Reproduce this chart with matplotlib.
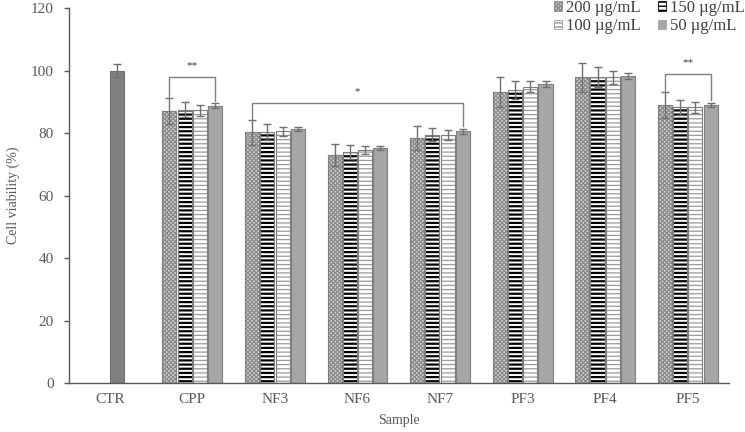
import matplotlib
matplotlib.use("Agg")
import matplotlib.pyplot as plt
from matplotlib.patches import Patch
import numpy as np

plt.rcParams['font.family'] = ['Liberation Serif', 'DejaVu Serif']

categories = ["CTR", "CPP", "NF3", "NF6", "NF7", "PF3", "PF4", "PF5"]
series_names = ["200 µg/mL", "150 µg/mL", "100 µg/mL", "50 µg/mL"]

ctr_value = 100.0
ctr_err = 2.0

# values for CPP..PF5 per concentration
v200 = [87.0, 80.3, 73.0, 78.5, 93.2, 97.8, 89.0]
v150 = [87.5, 80.4, 74.0, 79.5, 93.8, 97.8, 88.2]
v100 = [87.3, 80.6, 74.5, 79.5, 94.8, 97.8, 88.2]
v50 = [88.8, 81.3, 75.2, 80.5, 95.7, 98.2, 89.0]

e200 = [4.2, 4.0, 3.5, 3.8, 4.8, 4.7, 4.2]
e150 = [2.4, 2.5, 2.2, 2.0, 2.8, 3.2, 2.4]
e100 = [1.8, 1.4, 1.3, 1.6, 1.8, 2.1, 1.8]
e50 = [0.8, 0.7, 0.6, 0.9, 0.9, 0.9, 0.7]

# significance brackets: (group_start, bar_start, group_end, bar_end, height, label)
brackets = [
    (1, 0, 1, 3, 98.0, "**"),
    (2, 0, 4, 3, 89.6, "*"),
    (7, 0, 7, 3, 98.8, "**"),
]

values = [v200, v150, v100, v50]
errors = [e200, e150, e100, e50]

fig = plt.figure(figsize=(7.45, 4.32), dpi=100)
ax = fig.add_axes([0.092, 0.1134, 0.8865, 0.868])

slot = 0.185
bw = 0.17
offsets = np.array([-1.5, -0.5, 0.5, 1.5]) * slot
edge = "#7f7f7f"

styles = [
    dict(face="#d6d6d6", hatch="xxxxxxxx", hcolor="#8a8a8a", hlw=0.9),
    dict(face="white", hatch="----", hcolor="black", hlw=1.6),
    dict(face="white", hatch="----", hcolor="#9a9a9a", hlw=0.9),
    dict(face="#a6a6a6", hatch=None, hcolor="#a6a6a6", hlw=1.0),
]

gx = np.arange(1, len(categories))

# CTR bar
ax.bar(0 + offsets[2], ctr_value, width=bw, color="#808080", edgecolor="#707070", linewidth=0.8, zorder=2)
ax.errorbar(0 + offsets[2], ctr_value, yerr=ctr_err, fmt="none", ecolor="#6f6f6f",
            elinewidth=1.0, capsize=3, capthick=1.0, zorder=3)

handles = []
for k in range(4):
    st = styles[k]
    xs = gx + offsets[k]
    bars = ax.bar(xs, values[k], width=bw, color=st["face"], edgecolor=st["hcolor"],
                  hatch=st["hatch"], linewidth=0, zorder=2)
    for b in bars:
        if hasattr(b, "set_hatch_linewidth"):
            b.set_hatch_linewidth(st["hlw"])
    ax.bar(xs, values[k], width=bw, fill=False, edgecolor=edge, linewidth=0.8, zorder=2.5)
    ax.errorbar(xs, values[k], yerr=errors[k], fmt="none", ecolor="#6f6f6f",
                elinewidth=1.0, capsize=3, capthick=1.0, zorder=3)
    h = Patch(facecolor=st["face"], edgecolor=st["hcolor"], hatch=st["hatch"], linewidth=0.6)
    handles.append(h)

# brackets
for g0, b0, g1, b1, hgt, lab in brackets:
    x0 = g0 + offsets[b0]
    x1 = g1 + offsets[b1]
    y0 = values[b0][g0 - 1] + errors[b0][g0 - 1]
    y1 = values[b1][g1 - 1] + errors[b1][g1 - 1] + 0.8
    ax.plot([x0, x0, x1, x1], [y0, hgt, hgt, y1], color="#808080", lw=1.0, zorder=4)
    ax.text((x0 + x1) / 2, hgt + 2.2, lab, ha="center", va="bottom", fontsize=8, color="#404040")

ax.set_xlim(-0.5, len(categories) - 0.5)
ax.set_ylim(0, 120)
ax.set_yticks(np.arange(0, 121, 20))
ax.set_xticks(np.arange(len(categories)))
ax.set_xticklabels(categories)

for s in ["top", "right"]:
    ax.spines[s].set_visible(False)
for s in ["left", "bottom"]:
    ax.spines[s].set_color("#595959")
    ax.spines[s].set_linewidth(1.0)

ax.tick_params(axis="y", length=3.5, width=1.0, color="#595959", pad=7, labelsize=11, labelcolor="#595959")
ax.tick_params(axis="x", length=0, pad=7, labelsize=11, labelcolor="#595959")

ax.set_ylabel("Cell viability (%)", fontsize=10, color="#595959", labelpad=8)
ax.set_xlabel("Sample", fontsize=10, color="#595959", labelpad=6)

# legend: row-wise order (200, 150 / 100, 50) with ncol=2 fills column-wise
order = [0, 2, 1, 3]
leg = fig.legend([handles[i] for i in order], [series_names[i] for i in order], ncol=2,
                 loc="upper right", bbox_to_anchor=(1.0, 1.0), frameon=False, fontsize=12,
                 handlelength=0.5, handleheight=0.5, handletextpad=0.25, borderpad=0,
                 borderaxespad=0, columnspacing=1.0, labelspacing=0.15, labelcolor="#404040")

fig.savefig("out.png", dpi=100)
